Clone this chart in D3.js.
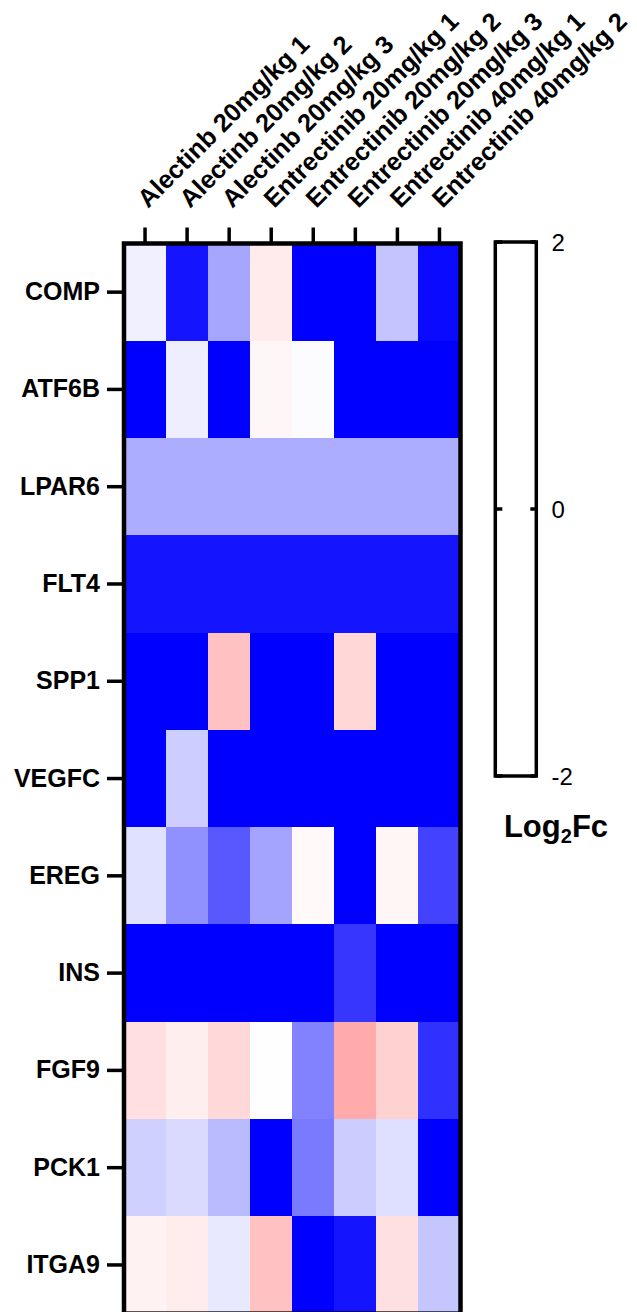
<!DOCTYPE html>
<html>
<head>
<meta charset="utf-8">
<script src="https://cdn.jsdelivr.net/npm/d3@7"></script>
<style>
  body { margin: 0; background: #fff; }
  svg { display: block; font-family: "Liberation Sans", Arial, sans-serif; }
</style>
</head>
<body>
<div id="chart"></div>
<script>
const width = 637;
const height = 1312;

const samples = ["Alectinb 20mg/kg 1", "Alectinb 20mg/kg 2", "Alectinb 20mg/kg 3",
  "Entrectinib 20mg/kg 1", "Entrectinib 20mg/kg 2", "Entrectinib 20mg/kg 3",
  "Entrectinib 40mg/kg 1", "Entrectinib 40mg/kg 2"];
const genes = ["COMP", "ATF6B", "LPAR6", "FLT4", "SPP1", "VEGFC", "EREG", "INS", "FGF9", "PCK1", "ITGA9"];

// log2 fold change, one array per gene (columns in samples order)
const COMP  = [-0.12, -1.84, -0.70,  0.16, -2.00, -2.00, -0.46, -1.92];
const ATF6B = [-2.00, -0.13, -2.00,  0.06, -0.02, -2.00, -2.00, -2.00];
const LPAR6 = [-0.64, -0.64, -0.64, -0.64, -0.64, -0.64, -0.64, -0.64];
const FLT4  = [-1.84, -1.84, -1.84, -1.84, -1.84, -1.84, -1.84, -1.84];
const SPP1  = [-2.00, -2.00,  0.49, -2.00, -2.00,  0.31, -2.00, -2.00];
const VEGFC = [-2.00, -0.39, -2.00, -2.00, -2.00, -2.00, -2.00, -2.00];
const EREG  = [-0.24, -0.87, -1.31, -0.71,  0.05, -2.00,  0.07, -1.48];
const INS   = [-2.00, -2.00, -2.00, -2.00, -2.00, -1.58, -2.00, -2.00];
const FGF9  = [ 0.25,  0.13,  0.30, -0.01, -0.98,  0.66,  0.35, -1.62];
const PCK1  = [-0.37, -0.29, -0.54, -2.00, -1.04, -0.40, -0.25, -2.00];
const ITGA9 = [ 0.10,  0.14, -0.18,  0.49, -2.00, -1.84,  0.24, -0.45];

const values = [COMP, ATF6B, LPAR6, FLT4, SPP1, VEGFC, EREG, INS, FGF9, PCK1, ITGA9];
const legendTicks = [-2, 0, 2];

const cells = [];
genes.forEach((g, i) => samples.forEach((s, j) => cells.push({gene: g, sample: s, value: values[i][j]})));

const svg = d3.select("#chart").append("svg")
  .attr("width", width)
  .attr("height", height);

const x = d3.scaleBand().domain(samples).range([124, 460.5]);
const y = d3.scaleBand().domain(genes).range([243.5, 1313.6]);

const colour = d3.scaleLinear()
  .domain([-2, 0, 2])
  .range(["#0000ff", "#ffffff", "#ff0000"])
  .clamp(true);

// cells
svg.append("g")
  .attr("shape-rendering", "crispEdges")
  .selectAll("rect")
  .data(cells)
  .join("rect")
    .attr("x", d => x(d.sample))
    .attr("y", d => y(d.gene))
    .attr("width", x.bandwidth() + 1)
    .attr("height", y.bandwidth() + 1)
    .attr("fill", d => colour(d.value));

// frame
svg.append("rect")
  .attr("x", 124)
  .attr("y", 243.5)
  .attr("width", 460.5 - 124)
  .attr("height", 1313.6 - 243.5)
  .attr("fill", "none")
  .attr("stroke", "#000")
  .attr("stroke-width", 4.5);

// top axis (sample labels)
const xAxis = svg.append("g")
  .attr("transform", "translate(0,243.5)")
  .call(d3.axisTop(x).tickSize(16).tickFormat(""));
xAxis.select(".domain").remove();
xAxis.selectAll(".tick line").attr("stroke", "#000").attr("stroke-width", 3.5);

svg.append("g")
  .selectAll("text")
  .data(samples)
  .join("text")
    .attr("transform", d => `translate(${x(d) + x.bandwidth() / 2 + 3},209) rotate(-45)`)
    .attr("font-size", 25.3)
    .attr("font-weight", "bold")
    .attr("fill", "#000")
    .text(d => d);

// left axis (gene labels)
const yAxis = svg.append("g")
  .attr("transform", "translate(124,0)")
  .call(d3.axisLeft(y).tickSize(17).tickPadding(7));
yAxis.select(".domain").remove();
yAxis.selectAll(".tick line").attr("stroke", "#000").attr("stroke-width", 3.5);
yAxis.selectAll(".tick text")
  .attr("font-size", 25)
  .attr("font-weight", "bold")
  .attr("font-family", "Liberation Sans, Arial, sans-serif")
  .attr("fill", "#000");

// colour legend
const ly = d3.scaleLinear().domain([-2, 2]).range([776, 242]);
const lx0 = 495.3, lx1 = 536.3;

svg.append("rect")
  .attr("x", lx0)
  .attr("y", ly(2))
  .attr("width", lx1 - lx0)
  .attr("height", ly(-2) - ly(2))
  .attr("fill", "#fff")
  .attr("stroke", "#000")
  .attr("stroke-width", 3.5);

const lt = svg.append("g");
lt.selectAll("line.l")
  .data(legendTicks)
  .join("line")
    .attr("class", "l")
    .attr("x1", lx0).attr("x2", lx0 + 7)
    .attr("y1", d => ly(d)).attr("y2", d => ly(d))
    .attr("stroke", "#000").attr("stroke-width", 3.5);
lt.selectAll("line.r")
  .data(legendTicks)
  .join("line")
    .attr("class", "r")
    .attr("x1", lx1 - 6).attr("x2", lx1)
    .attr("y1", d => ly(d)).attr("y2", d => ly(d))
    .attr("stroke", "#000").attr("stroke-width", 3.5);
lt.selectAll("text")
  .data(legendTicks)
  .join("text")
    .attr("x", 551.5)
    .attr("y", d => ly(d))
    .attr("dy", "0.36em")
    .attr("font-size", 24)
    .attr("fill", "#000")
    .text(d => d);

const title = svg.append("text")
  .attr("x", 556)
  .attr("y", 837)
  .attr("text-anchor", "middle")
  .attr("font-size", 31)
  .attr("font-weight", "bold")
  .attr("fill", "#000");
title.append("tspan").text("Log");
title.append("tspan").attr("font-size", 20).attr("dy", 6).text("2");
title.append("tspan").attr("dy", -6).text("Fc");
</script>
</body>
</html>
